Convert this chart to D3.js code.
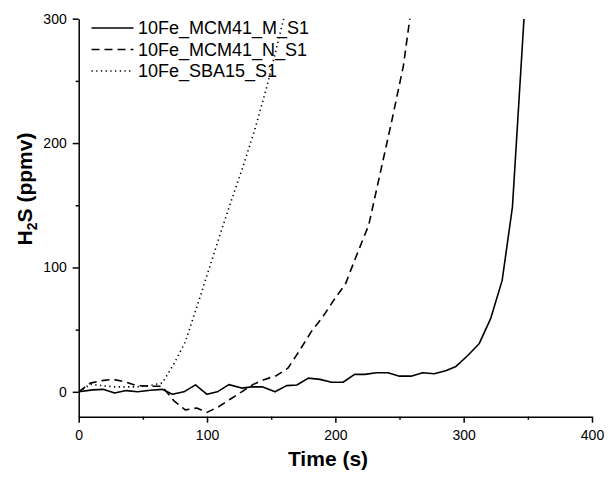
<!DOCTYPE html>
<html>
<head>
<meta charset="utf-8">
<script src="https://cdn.jsdelivr.net/npm/d3@7/dist/d3.min.js"></script>
<style>
  html, body { margin: 0; padding: 0; background: #fff; }
  svg { display: block; }
  text { font-family: Arial, "Liberation Sans", sans-serif; fill: #000; }
</style>
</head>
<body>
<svg id="chart" width="608" height="477"></svg>
<script>
// ---- data ----
const seriesNames = ["10Fe_MCM41_M_S1", "10Fe_MCM41_N_S1", "10Fe_SBA15_S1"];

const timeM = [0, 11, 19, 28, 37, 46, 56, 65, 73, 82, 91, 100, 108, 117, 127, 135, 143, 153, 162, 170, 179, 188, 197, 206, 215, 223, 232, 241, 250, 259, 268, 277, 286, 294, 303, 312, 321, 330, 338, 347];
const valM  = [0, 1.6, 2, -1, 1, 0, 1.3, 2, -2, 0, 5.6, -2, 0, 5.8, 3, 4, 4, 0, 5, 5.5, 11, 10, 7.7, 7.7, 14, 14, 15.3, 15.3, 12.6, 12.6, 15.3, 14.5, 17, 20.4, 29, 38.6, 58.8, 89.6, 148.6, 300];

const timeN = [0, 9, 18, 27, 36, 45, 55, 65, 74, 83, 92, 100, 109, 118, 127, 136, 145, 154, 163, 172, 181, 190, 199, 208, 217, 226, 235, 244, 253, 262];
const valN  = [0, 7, 9, 10, 8, 5, 4.5, 4.5, -7, -14.5, -13, -16.5, -12, -6, 0, 6, 10, 13, 19, 33, 48, 60, 74, 87, 111, 134, 176, 218, 262, 330];

const timeS = [0, 9, 18, 27, 36, 45, 55, 65, 74, 83, 92, 101, 110, 119, 128, 137, 146, 155, 164];
const valS  = [0, 6, 5, 4, 4, 4, 5, 7, 22, 40, 68, 97, 126, 154, 181, 210, 243, 280, 318];

const xMajorTicks = [0, 100, 200, 300, 400];
const xMinorTicks = [50, 150, 250, 350];
const yMajorTicks = [0, 100, 200, 300];
const yMinorTicks = [50, 150, 250];

// ---- layout ----
const svg = d3.select("#chart");
const x = d3.scaleLinear().domain([0, 400]).range([78.7, 592]);
const y = d3.scaleLinear().domain([-20, 300]).range([416.7, 18.7]);

const series = [
  { name: seriesNames[0], t: timeM, v: valM, dash: null },
  { name: seriesNames[1], t: timeN, v: valN, dash: "8,5" },
  { name: seriesNames[2], t: timeS, v: valS, dash: "1.3,3.4" }
];

svg.append("defs").append("clipPath").attr("id", "plotclip")
  .append("rect")
  .attr("x", x(0)).attr("y", y(300))
  .attr("width", x(400) - x(0)).attr("height", y(-20) - y(300));

const line = d3.line().x(d => x(d[0])).y(d => y(d[1]));

const g = svg.append("g").attr("clip-path", "url(#plotclip)");
series.forEach(s => {
  const pts = s.t.map((t, i) => [t, s.v[i]]);
  g.append("path")
    .datum(pts)
    .attr("d", line)
    .attr("fill", "none")
    .attr("stroke", "#000")
    .attr("stroke-width", 1.6)
    .attr("stroke-linejoin", "round")
    .attr("stroke-dasharray", s.dash);
});

// ---- axes ----
const xAxis = svg.append("g").attr("transform", `translate(0,${y(-20)})`)
  .call(d3.axisBottom(x).tickValues(xMajorTicks).tickSize(6).tickSizeOuter(0).tickPadding(7).tickFormat(d3.format("d")));
svg.append("g").attr("transform", `translate(0,${y(-20)})`)
  .call(d3.axisBottom(x).tickValues(xMinorTicks).tickSize(3).tickSizeOuter(0).tickFormat(""))
  .select(".domain").remove();

const yAxis = svg.append("g").attr("transform", `translate(${x(0)},0)`)
  .call(d3.axisLeft(y).tickValues(yMajorTicks).tickSize(6).tickSizeOuter(0).tickPadding(6).tickFormat(d3.format("d")));
svg.append("g").attr("transform", `translate(${x(0)},0)`)
  .call(d3.axisLeft(y).tickValues(yMinorTicks).tickSize(3).tickSizeOuter(0).tickFormat(""))
  .select(".domain").remove();

svg.selectAll(".domain, .tick line").attr("stroke", "#000").attr("stroke-width", 1.5);
svg.selectAll(".tick text").attr("font-size", 14).attr("font-family", "Arial, 'Liberation Sans', sans-serif").attr("fill", "#000");

// ---- axis titles ----
svg.append("text")
  .attr("x", 328).attr("y", 466)
  .attr("text-anchor", "middle")
  .attr("font-size", 21).attr("font-weight", "bold")
  .text("Time (s)");

const yt = svg.append("text")
  .attr("transform", "translate(32,189) rotate(-90)")
  .attr("text-anchor", "middle")
  .attr("font-size", 21).attr("font-weight", "bold");
yt.append("tspan").text("H");
yt.append("tspan").attr("font-size", 14).attr("dy", 5).text("2");
yt.append("tspan").attr("dy", -5).text("S (ppmv)");

// ---- legend ----
const legendY = [28, 49.5, 71];
const leg = svg.append("g");
series.forEach((s, i) => {
  leg.append("line")
    .attr("x1", 91.5).attr("x2", 133.5)
    .attr("y1", legendY[i]).attr("y2", legendY[i])
    .attr("stroke", "#000").attr("stroke-width", 1.6)
    .attr("stroke-dasharray", s.dash);
  leg.append("text")
    .attr("x", 138).attr("y", legendY[i])
    .attr("dy", "0.36em")
    .attr("font-size", 18)
    .text(s.name);
});
</script>
</body>
</html>
